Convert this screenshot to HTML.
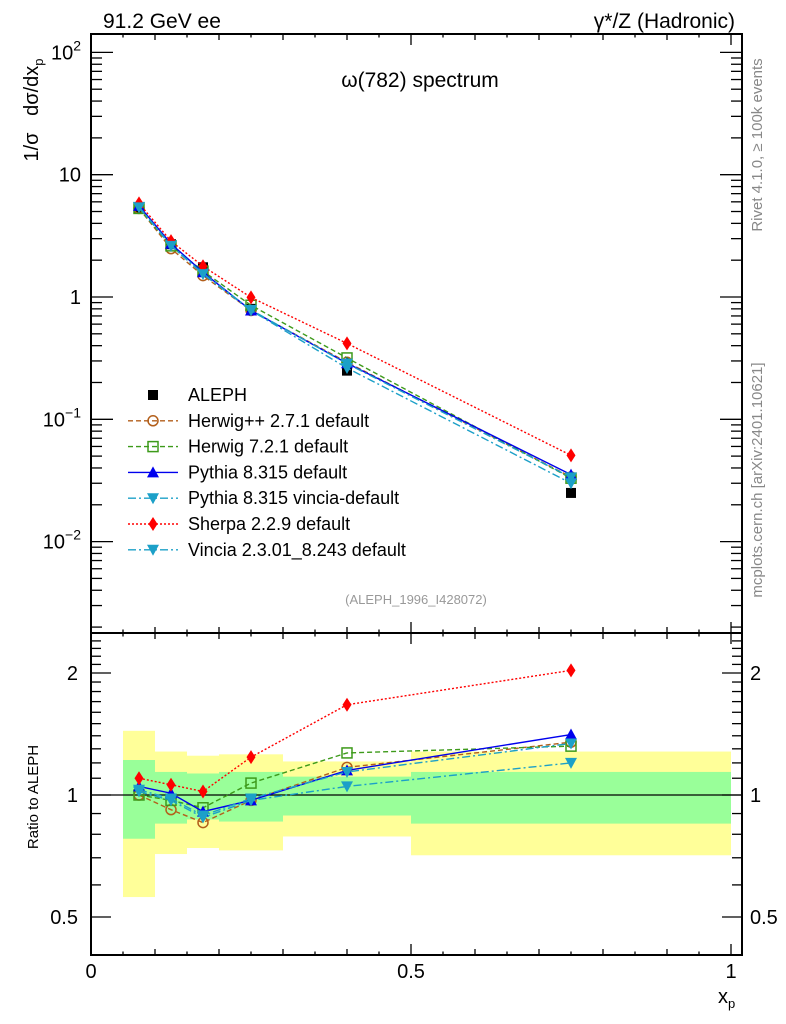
<!DOCTYPE html>
<html><head><meta charset="utf-8"><style>
html,body{margin:0;padding:0;background:#fff}
svg{display:block;font-family:"Liberation Sans",Arial,sans-serif}
</style></head><body>
<svg id="chart" width="786" height="1024" viewBox="0 0 786 1024" xmlns="http://www.w3.org/2000/svg">
<g id="bands"></g>
<g id="grid"></g>
<g id="aleph"></g>
<g id="series"></g>
<g id="legend"></g>
<text x="103" y="28" font-size="21">91.2 GeV ee</text>
<text x="735" y="28" font-size="21" text-anchor="end">γ*/Z (Hadronic)</text>
<text x="420" y="87" font-size="21" text-anchor="middle">ω(782) spectrum</text>
<text x="416" y="604" font-size="13" fill="#999" text-anchor="middle">(ALEPH_1996_I428072)</text>
<text transform="translate(762,145) rotate(-90)" font-size="15" fill="#888" text-anchor="middle">Rivet 4.1.0, ≥ 100k events</text>
<text transform="translate(762,480) rotate(-90)" font-size="15" fill="#888" text-anchor="middle">mcplots.cern.ch [arXiv:2401.10621]</text>
<text transform="translate(38,110) rotate(-90)" font-size="20" text-anchor="middle" xml:space="preserve">1/σ   dσ/dx<tspan font-size="13" dy="5">p</tspan></text>
<text transform="translate(38,797) rotate(-90)" font-size="15" text-anchor="middle">Ratio to ALEPH</text>
<text x="718" y="1003" font-size="20">x<tspan font-size="13" dy="5">p</tspan></text>
</svg>
<script>
const xCenters=[0.075,0.125,0.175,0.25,0.4,0.75];
const binEdges=[0.05,0.1,0.15,0.2,0.3,0.5,1.0];
const alephVals=[5.3,2.7,1.75,0.8,0.25,0.025];
const greenHi=[1.22,1.14,1.13,1.14,1.11,1.14];
const greenLo=[0.78,0.85,0.87,0.86,0.89,0.85];
const yellowHi=[1.44,1.28,1.25,1.26,1.21,1.28];
const yellowLo=[0.56,0.715,0.74,0.73,0.79,0.71];
const ratioHerwigPP=[1.0,0.92,0.855,0.97,1.17,1.35];
const ratioHerwig7=[1.0,0.97,0.93,1.07,1.27,1.32];
const ratioPythia=[1.05,1.01,0.91,0.97,1.15,1.41];
const ratioPythiaVincia=[1.03,0.98,0.89,0.98,1.14,1.34];
const ratioSherpa=[1.10,1.06,1.02,1.24,1.67,2.03];
const ratioVincia=[1.02,0.97,0.88,0.97,1.05,1.20];
const mainYTicks=[2,1,0,-1,-2];
const mainYLabels=["10^2","10","1","10^-1","10^-2"];
const ratioTicks=[0.5,1,2];
const ratioLabels=["0.5","1","2"];
const xTickVals=[0,0.5,1];
const xTickLabels=["0","0.5","1"];

const NS="http://www.w3.org/2000/svg";
const L=91,R=742,T=34,MB=633,RB=955;
const X=v=>L+v*640;
const Y=v=>297-Math.log10(v)*122.3;
const YR=r=>795-Math.log2(r)*122;
function mk(tag,at,parent){const e=document.createElementNS(NS,tag);for(const k in at)e.setAttribute(k,at[k]);parent.appendChild(e);return e;}
const gB=document.getElementById('bands'),gA=document.getElementById('grid'),gS=document.getElementById('series'),gL=document.getElementById('legend'),gD=document.getElementById('aleph');

for(let i=0;i<xCenters.length;i++){
 let r=mk('rect',{x:X(binEdges[i]),y:YR(yellowHi[i]),width:X(binEdges[i+1])-X(binEdges[i]),height:YR(yellowLo[i])-YR(yellowHi[i]),fill:'#ffff99'},gB);
 
 
 let g=mk('rect',{x:X(binEdges[i]),y:YR(greenHi[i]),width:X(binEdges[i+1])-X(binEdges[i]),height:YR(greenLo[i])-YR(greenHi[i]),fill:'#99ff99'},gB);
 
 
}
let f1=mk('rect',{x:L,y:T,width:R-L,height:MB-T,fill:'none',stroke:'#000','stroke-width':2},gA);


let f2=mk('rect',{x:L,y:MB,width:R-L,height:RB-MB,fill:'none',stroke:'#000','stroke-width':2},gA);


let ul=mk('line',{x1:L,x2:R,y1:YR(1),y2:YR(1),stroke:'#000','stroke-width':1.3},gA);


function tk(x1,y1,x2,y2){mk('line',{x1:x1,y1:y1,x2:x2,y2:y2,stroke:'#000','stroke-width':1.3},gA);}
for(let k=0;k<=20;k++){const v=k*0.05,x=X(v);const len=k%10==0?11:(k%2==0?6:3.5);
 for(const yb of [MB,RB]){tk(x,yb,x,yb-len);} for(const yt of [T,MB]){tk(x,yt,x,yt+len);} }
xTickVals.forEach((v,i)=>{let t=mk('text',{x:X(v),y:978,'font-size':20,'text-anchor':'middle'},gA);t.textContent=xTickLabels[i];
 
 });
for(let d=-3;d<=2;d++){for(let m=1;m<=9;m++){const v=m*Math.pow(10,d);const y=Y(v);if(y<T||y>MB)continue;const len=m==1?22:11;tk(L,y,L+len,y);tk(R,y,R-len,y);}}
mainYTicks.forEach((e,i)=>{const y=Y(Math.pow(10,e));const lab=mainYLabels[i];let t=mk('text',{x:81,y:y+7,'font-size':20,'text-anchor':'end'},gA);
 if(lab.includes('^')){const parts=lab.split('^');t.textContent=parts[0];const s=mk('tspan',{dy:-9,'font-size':14},t);s.textContent=parts[1].replace('-','−');}else t.textContent=lab;
 
 });
const rmin=[0.5,0.6,0.7,0.8,0.9,1,1.1,1.2,1.3,1.4,1.5,1.6,1.7,1.8,1.9,2,2.1,2.2,2.3,2.4];
rmin.forEach(v=>{const y=YR(v);if(y<MB||y>RB)return;const len=(v==0.5||v==1||v==2)?20:10;tk(L,y,L+len,y);tk(R,y,R-len,y);});
ratioTicks.forEach((v,i)=>{for(const pa of [[78,'end'],[750,'start']]){let t=mk('text',{x:pa[0],y:YR(v)+7,'font-size':20,'text-anchor':pa[1]},gA);t.textContent=ratioLabels[i];
 
 }});

function marker(type,x,y,col,g){
 if(type=='sq')return mk('rect',{x:x-5,y:y-5,width:10,height:10,fill:'#000'},g);
 if(type=='circ')return mk('circle',{cx:x,cy:y,r:5,fill:'none',stroke:col,'stroke-width':1.5},g);
 if(type=='osq')return mk('rect',{x:x-5,y:y-5,width:10,height:10,fill:'none',stroke:col,'stroke-width':1.5},g);
 if(type=='up')return mk('path',{d:'M'+x+','+(y-6)+'L'+(x+6)+','+(y+5)+'L'+(x-6)+','+(y+5)+'Z',fill:col},g);
 if(type=='dn')return mk('path',{d:'M'+x+','+(y+6)+'L'+(x+6)+','+(y-5)+'L'+(x-6)+','+(y-5)+'Z',fill:col},g);
 if(type=='dia')return mk('path',{d:'M'+x+','+(y-7)+'L'+(x+4.5)+','+y+'L'+x+','+(y+7)+'L'+(x-4.5)+','+y+'Z',fill:col},g);
}
alephVals.forEach((v,i)=>{const m=marker('sq',X(xCenters[i]),Y(v),'#000',gD);
 
 });
const defs=[
 {name:'herwigpp',r:ratioHerwigPP,col:'#b35f1b',dash:'5,3',m:'circ',label:'Herwig++ 2.7.1 default'},
 {name:'herwig7',r:ratioHerwig7,col:'#3d9a1a',dash:'5,3',m:'osq',label:'Herwig 7.2.1 default'},
 {name:'pythia',r:ratioPythia,col:'#0000ee',dash:'',m:'up',label:'Pythia 8.315 default'},
 {name:'pythia-vincia',r:ratioPythiaVincia,col:'#1ca0c8',dash:'8,3,2,3',m:'dn',label:'Pythia 8.315 vincia-default'},
 {name:'sherpa',r:ratioSherpa,col:'#ff0000',dash:'2,2',m:'dia',label:'Sherpa 2.2.9 default'},
 {name:'vincia',r:ratioVincia,col:'#1ca0c8',dash:'8,3,2,3',m:'dn',label:'Vincia 2.3.01_8.243 default'}];
defs.forEach(d=>{
 const g=mk('g',{},gS);
 
 
 const main=xCenters.map((x,i)=>[X(x),Y(alephVals[i]*d.r[i])]);
 const rat=xCenters.map((x,i)=>[X(x),YR(d.r[i])]);
 for(const pts of [main,rat]){
  const at={points:pts.map(p=>p.join(',')).join(' '),fill:'none',stroke:d.col,'stroke-width':1.4};
  if(d.dash)at['stroke-dasharray']=d.dash;
  const pl=mk('polyline',at,g);
  
  
  pts.forEach(p=>{const mm=marker(d.m,p[0],p[1],d.col,g);
   
   });
 }
});

const rows=[{m:'sq',col:'#000',dash:null,label:'ALEPH'}].concat(defs);
rows.forEach((d,i)=>{const y=395+i*25.8;const g=mk('g',{},gL);
 
 
 if(d.dash!==null){const at={x1:128,x2:178,y1:y,y2:y,stroke:d.col,'stroke-width':1.4};if(d.dash)at['stroke-dasharray']=d.dash;mk('line',at,g);}
 marker(d.m,153,y,d.col,g);
 const t=mk('text',{x:188,y:y+6,'font-size':18},g);t.textContent=d.label;});
</script>
</body></html>
